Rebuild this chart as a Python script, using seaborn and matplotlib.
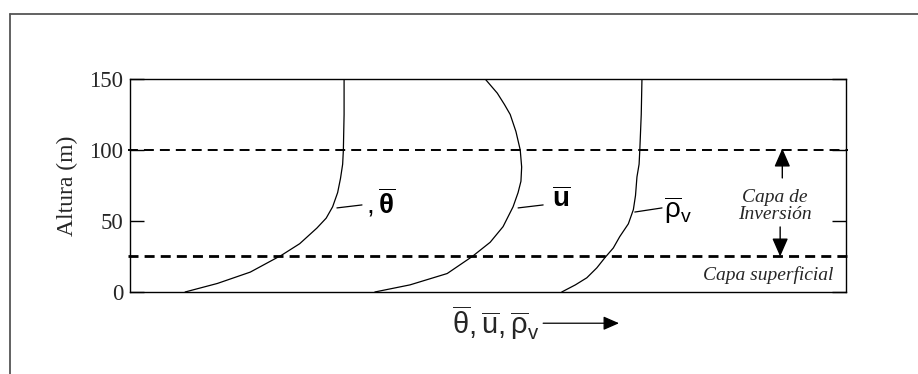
import numpy as np
import pandas as pd
import seaborn as sns
import matplotlib.pyplot as plt

sns.set_theme(style="white")
plt.rcParams["font.family"] = ["Liberation Serif", "DejaVu Serif"]
plt.rcParams["mathtext.fontset"] = "custom"
plt.rcParams["mathtext.rm"] = "Liberation Sans"
plt.rcParams["mathtext.it"] = "Liberation Sans"
plt.rcParams["mathtext.bf"] = "Liberation Sans:bold"

# Profiles: x as % of axis width, height in m
theta_x = [7.7, 12.2, 16.8, 21.2, 23.7, 26.1, 27.4, 28.3, 29.0, 29.4, 29.7, 29.8, 29.9, 29.9]
theta_z = [0, 6, 14, 26, 34, 45, 52, 60, 70, 80, 90, 100, 125, 150]
u_x = [34.2, 39.1, 44.3, 47.8, 50.3, 52.1, 53.5, 54.2, 54.6, 54.7, 54.5,
       53.9, 53.1, 52.3, 51.3, 49.6]
u_z = [0, 5, 13, 25, 35, 46, 60, 70, 78, 88, 100, 113, 125, 132, 140, 150]
rho_x = [60.3, 62.2, 63.8, 65.2, 66.3, 67.5, 68.4, 69.6, 70.3, 70.6, 70.8,
         71.1, 71.2, 71.4, 71.5]
rho_z = [0, 5, 10, 17, 24, 31, 39, 48, 58, 68, 81, 90, 100, 125, 150]

inversion_top = 100
surface_top = 25
y_ticks = [0, 50, 100, 150]

fig = plt.figure(figsize=(9.18, 3.74), dpi=100)
ax = fig.add_axes([0.1416, 0.2193, 0.78, 0.5695])

for xs, zs in [(theta_x, theta_z), (u_x, u_z), (rho_x, rho_z)]:
    df = pd.DataFrame({"x": xs, "z": zs})
    sns.lineplot(data=df, x="x", y="z", sort=False, estimator=None,
                 color="black", lw=0.9, ax=ax)

ax.plot([-0.3, 100.3], [inversion_top] * 2, color="black", lw=1.4,
        dashes=(5.1, 3.1), clip_on=False)
ax.plot([-0.3, 100.3], [surface_top] * 2, color="black", lw=2.0,
        dashes=(3.6, 2.2), clip_on=False)

ax.set_xlim(0, 100)
ax.set_ylim(0, 150)
ax.set_xticks([])
ax.set_yticks(y_ticks)
ax.tick_params(axis="y", direction="in", length=10, width=1, color="black",
               left=True, right=True, labelsize=16.5, pad=5)
ax.set_xlabel("")
ax.set_ylabel("Altura (m)", fontsize=17, labelpad=8)
for s in ax.spines.values():
    s.set_color("black")
    s.set_linewidth(1.0)

# curve labels with leader lines
lab_kw = dict(fontsize=20, color="black", va="center", ha="left")
ax.plot([28.9, 32.4], [59.2, 61.3], color="black", lw=0.9)
ax.text(33.0, 62.7, r"$,\overline{\mathbf{\theta}}$", **lab_kw)
ax.plot([54.2, 57.7], [59.2, 61.3], color="black", lw=0.9)
ax.text(59.0, 64.8, r"$\overline{\mathbf{u}}$", **lab_kw)
ax.plot([70.5, 74.3], [56.3, 59.2], color="black", lw=0.9)
ax.text(74.6, 57.7, r"$\overline{\rho}_{\mathrm{v}}$", **lab_kw)

# layer annotations
ax.text(90.1, 60.6, "Capa de\nInversión", fontsize=14, style="italic",
        ha="center", va="center", linespacing=1.05)
arrow_kw = dict(arrowstyle="-|>,head_length=0.8,head_width=0.35",
                color="black", lw=1, mutation_scale=14, shrinkA=0, shrinkB=0)
ax.annotate("", xy=(91.1, 101), xytext=(91.1, 80.3), arrowprops=arrow_kw)
ax.annotate("", xy=(90.8, 25), xytext=(90.8, 45.8), arrowprops=arrow_kw)
ax.text(89.1, 12, "Capa superficial", fontsize=14, style="italic",
        ha="center", va="center")

# x "axis" label with arrow
ax.text(45.0, -22, r"$\overline{\theta},\overline{u},\overline{\rho}_{\mathrm{v}}$",
        fontsize=21, ha="left", va="center", clip_on=False)
ax.annotate("", xy=(68.3, -22), xytext=(57.7, -22), annotation_clip=False,
            arrowprops=dict(arrow_kw, lw=0.9, mutation_scale=12))

# outer frame (top and left only)
fig.add_artist(plt.Line2D([0.0109, 1.0], [0.9626, 0.9626], color="#555555",
                          lw=1.3, transform=fig.transFigure))
fig.add_artist(plt.Line2D([0.0109, 0.0109], [0.0, 0.9626], color="#555555",
                          lw=1.3, transform=fig.transFigure))

fig.savefig("out.png", dpi=100, facecolor="white")
